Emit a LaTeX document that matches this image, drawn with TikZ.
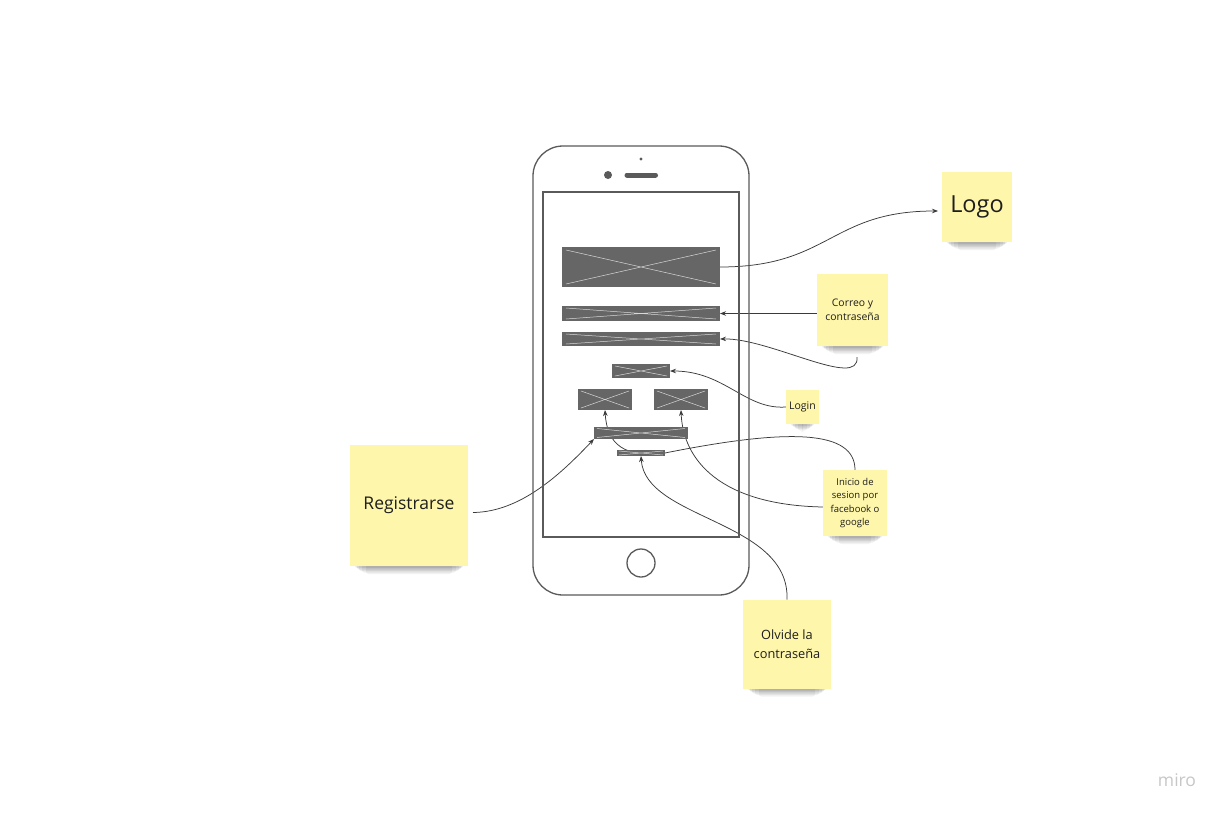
\documentclass[tikz,border=0pt]{standalone}
\usepackage{fontspec}
\setmainfont{Open Sans}
\usetikzlibrary{arrows.meta,calc,backgrounds}
\definecolor{notec}{HTML}{FEF6AA}
\definecolor{wire}{HTML}{666666}
\definecolor{phoneline}{HTML}{5A5A5A}
\definecolor{connc}{HTML}{3A3A3A}
\definecolor{txt}{HTML}{1E1E1E}
\definecolor{xlc}{HTML}{D8D8D8}
\newcommand\mynoteshadow[1]{%
  \foreach \dn/\ins/\op in {8/16/0.05, 6.5/12/0.06, 5/9/0.07, 3.5/7/0.08, 2/5/0.09}
    \fill[black, opacity=\op, rounded corners=2.5pt]
      ([xshift=\ins pt, yshift=6pt]#1.south west) rectangle ([xshift=-\ins pt, yshift=-\dn pt]#1.south east);}
\begin{document}
\begin{tikzpicture}[x=1pt,y=-1pt,
  xl/.style={draw=xlc, line width=0.5pt},
  xbox/.style 2 args={fill=wire, draw=none, inner sep=0pt, outer sep=0pt,
    path picture={\draw[xl]
      ([xshift=#1,yshift=-#2]path picture bounding box.north west) --
      ([xshift=-#1,yshift=#2]path picture bounding box.south east)
      ([xshift=#1,yshift=#2]path picture bounding box.south west) --
      ([xshift=-#1,yshift=-#2]path picture bounding box.north east);}},
  phone/.style={draw=phoneline, line width=1.3pt},
  sticky/.style={fill=notec, inner sep=0pt, outer sep=0pt, text=txt, align=center},
  conn/.style={draw=connc, line width=0.75pt, -{Stealth[length=6pt,width=4.5pt]}}
]
\useasboundingbox (0,0) rectangle (1224,816);

% phone
\draw[phone, rounded corners=30pt] (533,146) rectangle (749,595);
\draw[phone, line width=1.7pt] (543,192) rectangle (739,537);
\fill[phoneline] (608,175) circle (4pt);
\fill[phoneline] (641,159) circle (1.6pt);
\draw[phoneline, line width=5pt, line cap=round] (627,175) -- (655.5,175);
\draw[phone] (641,563) circle (14pt);

% wireframe elements
\node[xbox={4pt}{3pt}, minimum width=158pt, minimum height=40pt] (big) at (641,267) {};
\node[xbox={4pt}{2pt}, minimum width=158pt, minimum height=15pt] (bar1) at (641,313.5) {};
\node[xbox={4pt}{2pt}, minimum width=158pt, minimum height=14pt] (bar2) at (641,339) {};
\node[xbox={3pt}{2pt}, minimum width=58pt, minimum height=14pt] (small) at (641,371) {};
\node[xbox={3pt}{2pt}, minimum width=54pt, minimum height=21pt] (fb) at (605,399.5) {};
\node[xbox={3pt}{2pt}, minimum width=54pt, minimum height=21pt] (google) at (681,399.5) {};
\node[xbox={3pt}{1.5pt}, minimum width=94pt, minimum height=12pt] (wide) at (641,433) {};
\node[xbox={2pt}{1pt}, minimum width=48pt, minimum height=6pt] (tiny) at (641,453) {};

% sticky notes
\node[sticky, minimum width=70pt, minimum height=70pt, font=\fontsize{23.5}{28}\selectfont] (logo) at (977,207) {Logo};
\node[sticky, minimum width=71pt, minimum height=72pt, font=\fontsize{10.4}{14}\selectfont] (correo) at (852.5,310) {Correo y\\contraseña};
\node[sticky, minimum width=33pt, minimum height=34pt, font=\fontsize{10.5}{13}\selectfont] (login) at (802.5,407) {Login};
\node[sticky, minimum width=64pt, minimum height=66pt, font=\fontsize{9.5}{13.3}\selectfont] (inicio) at (855,503) {Inicio de\\sesion por\\facebook o\\google};
\node[sticky, minimum width=118pt, minimum height=121pt, font=\fontsize{17.5}{22}\selectfont] (reg) at (409,505.5) {Registrarse};
\node[sticky, minimum width=88pt, minimum height=89pt, font=\fontsize{12.8}{19}\selectfont] (olvide) at (787,644) {Olvide la\\contraseña};

\node[text=black!22, font=\fontsize{17.5}{20}\selectfont] (miro) at (1177,780) {miro};

% connectors and shadows (behind the elements)
\begin{scope}[on background layer]
\fill[white] (0,0) rectangle (1224,816);
\mynoteshadow{logo}
\mynoteshadow{correo}
\mynoteshadow{login}
\mynoteshadow{inicio}
\mynoteshadow{reg}
\mynoteshadow{olvide}
\draw[conn] (big.east) .. controls (830,267) and (830,211) .. ([xshift=-4pt,yshift=-4pt]logo.west);
\draw[conn] (correo.west |- bar1.east) -- (bar1.east);
\draw[conn] ([xshift=4.5pt,yshift=-11pt]correo.south) .. controls (860,390) and (770,338) .. (bar2.east);
\draw[conn] (login.west) .. controls (745,410) and (725,371) .. (small.east);
\draw[conn] (inicio.north) .. controls (855,430) and (790,428) .. (tiny.east) .. controls (625,458) and (607,445) .. (fb.south);
\draw[conn] ([yshift=-4pt]inicio.west) .. controls (720,505) and (683,460) .. (google.south);
\draw[conn] ([xshift=5pt,yshift=-7pt]reg.east) .. controls (520,512) and (560,475) .. (wide.south west);
\draw[conn] (olvide.north) .. controls (790,520) and (645,520) .. (tiny.south);
\end{scope}
\end{tikzpicture}
\end{document}
